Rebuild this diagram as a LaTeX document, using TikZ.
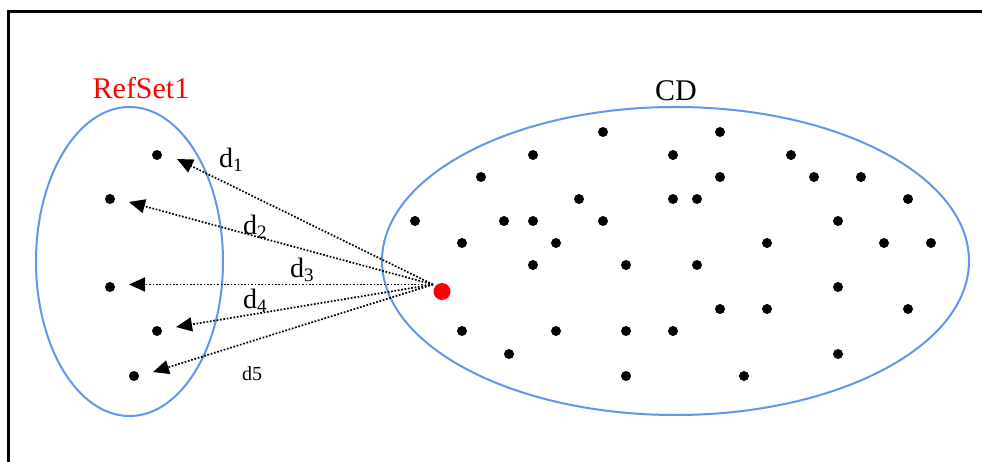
\documentclass[tikz,border=0pt]{standalone}
\usepackage{fontspec}
\setmainfont{Liberation Serif}
\usetikzlibrary{arrows.meta,shapes.geometric}
\definecolor{setblue}{RGB}{100,149,237}
\definecolor{qred}{RGB}{255,0,0}
\newcommand{\dsub}[1]{\raisebox{-4pt}{\fontsize{19}{19}\selectfont #1}}
\begin{document}
\begin{tikzpicture}[x=1pt,y=-1pt,
  dot/.style={circle,fill=black,inner sep=0pt,minimum size=10pt},
  qdot/.style={circle,fill=qred,inner sep=0pt,minimum size=17pt},
  setline/.style={draw=setblue,line width=2pt,ellipse,inner sep=0pt},
  dist/.style={line width=1.7pt,dash pattern=on 1.7pt off 1.7pt,-{Triangle[length=16pt,width=14pt]}},
  lab/.style={font=\fontsize{28}{30}\selectfont,anchor=base west,inner sep=0pt},
  title/.style={font=\fontsize{30}{32}\selectfont,anchor=base,inner sep=0pt},
]
\useasboundingbox (0,0) rectangle (982,462);
\draw[line width=3pt,line join=miter] (8.7,462) -- (8.7,11.7) -- (982,11.7);

% sets
\node[setline,minimum width=187pt,minimum height=309pt] (ref) at (129.5,261.5) {};
\node[setline,minimum width=587pt,minimum height=308pt] (cd) at (675.5,261) {};
\node[title,text=qred] (reflab) at (141,99) {RefSet1};
\node[title] (cdlab) at (676,101) {CD};

% reference set points
\node[dot] (r1) at (157,155) {};
\node[dot] (r2) at (110,199) {};
\node[dot] (r3) at (110,287) {};
\node[dot] (r4) at (157,331) {};
\node[dot] (r5) at (134,376) {};

% CD points
\foreach \x/\y [count=\i] in {
  603/132, 720/132,
  533/155, 673/155, 791/155,
  481/177, 720/177, 814/177, 861/177,
  579/199, 673/199, 697/199, 908/199,
  415/221, 504/221, 533/221, 603/221, 838/221,
  462/243, 556/243, 767/243, 884/243, 931/243,
  533/265, 626/265, 697/265,
  838/287,
  720/309, 767/309, 908/309,
  462/331, 556/331, 626/331, 673/331,
  509/354, 838/354,
  626/376, 744/376}
  \node[dot] (c\i) at (\x,\y) {};

% query point
\node[qdot] (q) at (442,291.5) {};
\coordinate (qs) at (433,284.5);

% arrow ends
\coordinate (a1) at (177,159);
\coordinate (a2) at (129,202);
\coordinate (a3) at (129,284.5);
\coordinate (a4) at (176,327);
\coordinate (a5) at (153,372);

\draw[dist] (qs) -- (a1);
\draw[dist] (qs) -- (a2);
\draw[dist] (qs) -- (a3);
\draw[dist] (qs) -- (a4);
\draw[dist] (qs) -- (a5);

% distance labels
\node[lab] (d1) at (219,168) {d\dsub{1}};
\node[lab] (d2) at (243,235) {d\dsub{2}};
\node[lab] (d3) at (290,278) {d\dsub{3}};
\node[lab] (d4) at (243,308) {d\dsub{4}};
\node[lab,font=\fontsize{20}{22}\selectfont] (d5) at (242,380) {d5};
\end{tikzpicture}
\end{document}
